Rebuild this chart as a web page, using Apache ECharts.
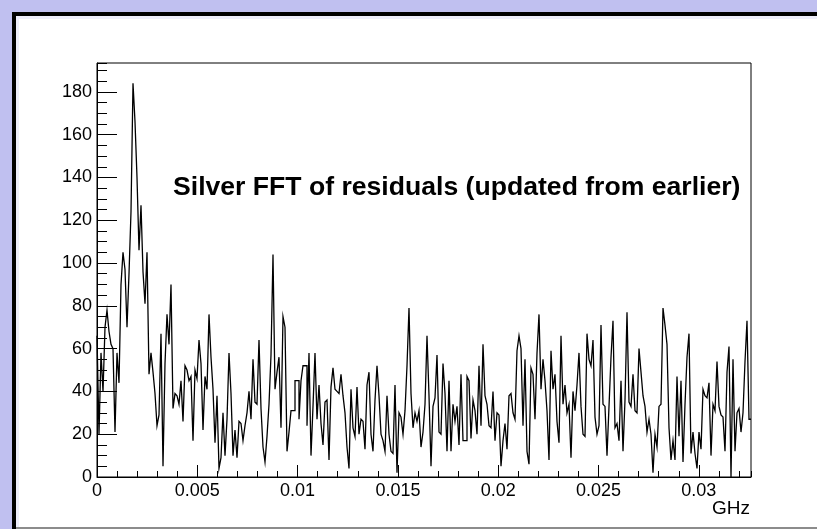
<!DOCTYPE html>
<html>
<head>
<meta charset="utf-8">
<script src="https://cdn.jsdelivr.net/npm/echarts@6/dist/echarts.min.js"></script>
<style>
html,body{margin:0;padding:0;background:#c0c0f0;}
#chart{width:817px;height:529px;}
</style>
</head>
<body>
<div id="chart"></div>
<script>
// ---- chart content ----
const chartTitle = 'Silver FFT of residuals (updated from earlier)';
const xUnitLabel = 'GHz';
const xRange = [0, 0.0326];
const yRange = [0, 193.5];
const xTickValues = [0, 0.005, 0.01, 0.015, 0.02, 0.025, 0.03];
const xTickLabels = ['0', '0.005', '0.01', '0.015', '0.02', '0.025', '0.03'];
const yTickValues = [0, 20, 40, 60, 80, 100, 120, 140, 160, 180];
const yTickLabels = ['0', '20', '40', '60', '80', '100', '120', '140', '160', '180'];

// FFT amplitude per frequency bin (left to right)
const binsA = [66, 20, 58, 40, 70, 78, 68, 62, 60, 21, 58, 44, 90, 105, 97, 70, 95, 124, 184, 166,
  140, 106, 127, 96, 81, 105, 48, 58, 49, 39, 24, 29, 67, 5, 53, 76, 62, 90, 32, 39,
  38, 34, 45, 26, 52, 50, 45, 47, 17, 50, 46, 64, 53, 22, 47, 41, 76, 56, 41, 16,
  38, 4, 9, 30, 10, 27, 58, 39, 10, 22, 9, 26, 25, 17, 24, 30, 40, 27, 55, 35,
  34, 64, 32, 14, 7, 19, 34, 57, 104];
const binsB = [41, 49, 56, 23, 75, 70, 12, 21, 31, 31, 45, 45, 27, 45, 52, 52, 24, 58, 10,
  33, 58, 27, 43, 25, 15, 35, 36, 8, 42, 51, 41, 40, 39, 48, 38, 30, 14, 4, 41,
  23, 19, 42, 20, 27, 26, 13, 43, 49, 20, 12, 36, 52, 38, 20, 17, 12, 38, 20, 12,
  11, 43, 2, 30, 28, 20, 31, 52, 79, 39, 23, 30, 26, 31, 14, 21, 34, 66];
const binsC = [38, 5, 33, 37, 57, 21, 20, 53, 39, 12, 45, 12, 34, 26, 33, 15, 48, 17, 17, 47,
  45, 18, 36, 31, 20, 52, 24, 62, 38, 34, 24, 23, 40, 17, 30, 29, 5, 17, 25, 13,
  38, 39, 30, 27, 59, 66, 60, 24, 55, 12, 6, 51, 48, 27, 58, 76, 41, 55, 45, 31,
  8, 59, 41, 48, 26, 16, 66, 34, 43, 30, 34, 9, 40, 31, 43, 58, 33, 20, 19, 67,
  55, 52, 64];
const binsD = [28, 20, 24, 71, 34, 33, 10, 33, 56, 73, 23, 25, 17, 45, 12, 36, 77, 35, 33, 48,
  31, 30, 60, 49, 38, 33, 21, 27, 20, 2, 20, 14, 33, 34, 79, 71, 62, 23, 8, 17,
  8, 47, 19, 45, 7, 34, 56, 67, 11, 21, 11, 4, 21, 13, 41, 38, 37, 44, 10, 34,
  31, 54, 33, 29, 28, 12, 49, 61, 0, 55, 12, 30, 32, 21, 30, 54, 73, 27];
const binValues = binsA.concat(binsB, binsC, binsD);

// ---- build step (histogram outline) data: one point per bin low edge + final edge ----
const binWidth = (xRange[1] - xRange[0]) / binValues.length;
const stepData = binValues.map((v, i) => [xRange[0] + i * binWidth, v]);
stepData.push([xRange[1], binValues[binValues.length - 1]]);

const FONT = '"Liberation Sans", Arial, Helvetica, sans-serif';
const G = {left: 97, top: 63, right: 66, bottom: 52};

function fmtLabel(vals, labels) {
  return function (v) {
    for (let i = 0; i < vals.length; i++) {
      if (Math.abs(v - vals[i]) < 1e-9) return labels[i];
    }
    return '';
  };
}

const chart = echarts.init(document.getElementById('chart'), null, {renderer: 'canvas'});
chart.setOption({
  animation: false,
  backgroundColor: '#c0c0f0',
  title: {
    text: chartTitle,
    left: 168,
    top: 169,
    textStyle: {fontFamily: FONT, fontSize: 26.6, fontWeight: 'bold', color: '#000'}
  },
  grid: {
    left: G.left, top: G.top, right: G.right, bottom: G.bottom,
    show: true, borderColor: '#000', borderWidth: 1, backgroundColor: 'transparent',
    containLabel: false
  },
  xAxis: [
    {
      type: 'value', min: xRange[0], max: xRange[1], interval: 0.005, position: 'bottom',
      axisLine: {show: true, onZero: false, lineStyle: {color: '#000', width: 1}},
      axisTick: {show: true, inside: true, length: 12, lineStyle: {color: '#000', width: 1}},
      axisLabel: {show: true, color: '#000', fontFamily: FONT, fontSize: 18, margin: 5,
        showMaxLabel: false, formatter: fmtLabel(xTickValues, xTickLabels)},
      splitLine: {show: false}
    },
    {
      type: 'value', min: xRange[0], max: xRange[1], interval: 0.001, position: 'bottom',
      axisLine: {show: false, onZero: false},
      axisTick: {show: true, inside: true, length: 6, lineStyle: {color: '#000', width: 1}},
      axisLabel: {show: false},
      splitLine: {show: false}
    }
  ],
  yAxis: [
    {
      type: 'value', min: yRange[0], max: yRange[1], interval: 20, position: 'left',
      axisLine: {show: true, onZero: false, lineStyle: {color: '#000', width: 1}},
      axisTick: {show: true, inside: true, length: 20, lineStyle: {color: '#000', width: 1}},
      axisLabel: {show: true, color: '#000', fontFamily: FONT, fontSize: 18, margin: 5,
        showMaxLabel: false, formatter: fmtLabel(yTickValues, yTickLabels)},
      splitLine: {show: false}
    },
    {
      type: 'value', min: yRange[0], max: yRange[1], interval: 5, position: 'left',
      axisLine: {show: false, onZero: false},
      axisTick: {show: true, inside: true, length: 10, lineStyle: {color: '#000', width: 1}},
      axisLabel: {show: false},
      splitLine: {show: false}
    }
  ],
  series: [{
    type: 'line',
    xAxisIndex: 0, yAxisIndex: 0,
    step: 'end',
    data: stepData,
    showSymbol: false,
    symbol: 'none',
    lineStyle: {color: '#000', width: 1.3, join: 'miter', cap: 'butt'},
    clip: true,
    z: 3
  }],
  graphic: [
    {type: 'rect', z: -20, silent: true, shape: {x: 12, y: 12, width: 805, height: 517}, style: {fill: '#000'}},
    {type: 'rect', z: -19, silent: true, shape: {x: 16, y: 16, width: 801, height: 513}, style: {fill: '#eeeefb'}},
    {type: 'rect', z: -18, silent: true, shape: {x: 19, y: 19, width: 798, height: 508}, style: {fill: '#ffffff'}},
    {type: 'rect', z: -18, silent: true, shape: {x: 16, y: 527, width: 801, height: 2}, style: {fill: '#8c8c8c'}},
    {type: 'text', z: 10, silent: true, style: {text: xUnitLabel, x: 750, y: 509, font: '19px ' + FONT,
      fill: '#000', align: 'right', verticalAlign: 'middle'}}
  ]
});
</script>
</body>
</html>
